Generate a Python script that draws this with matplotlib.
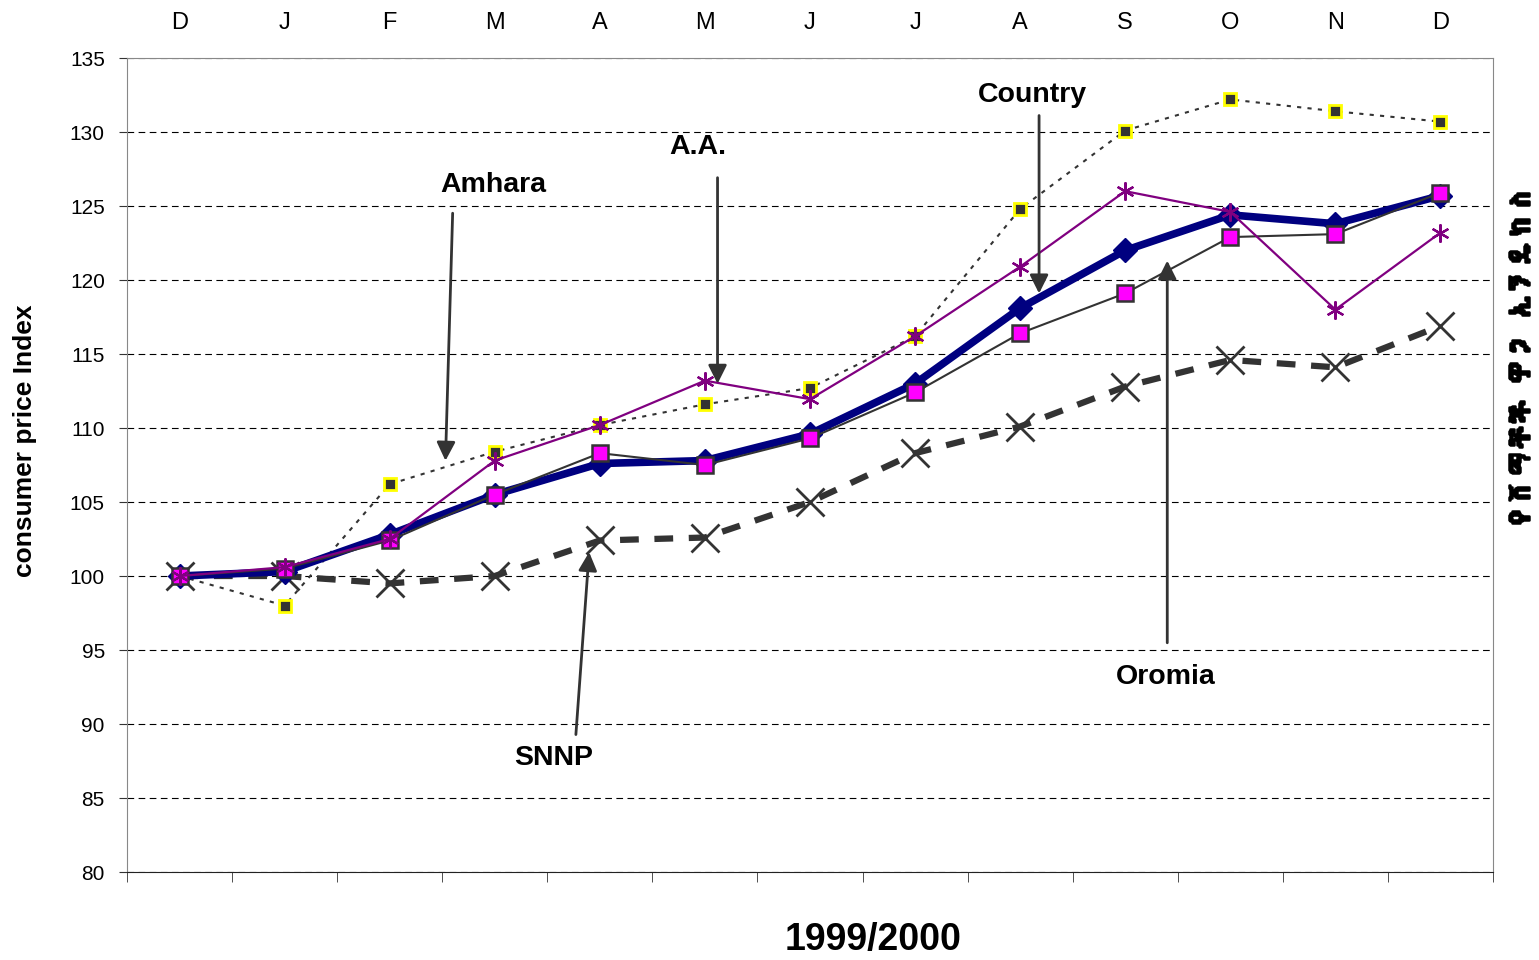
import numpy as np
import matplotlib
matplotlib.use('Agg')
import matplotlib.pyplot as plt
import matplotlib.patheffects as pe
from matplotlib import font_manager, ft2font

# Dados (leitura do gráfico)
months = ['D', 'J', 'F', 'M', 'A', 'M', 'J', 'J', 'A', 'S', 'O', 'N', 'D']
country = [100.0, 100.3, 102.8, 105.5, 107.6, 107.8, 109.6, 113.0, 118.1, 122.0, 124.4, 123.8, 125.7]
oromia = [100.0, 100.5, 102.4, 105.5, 108.3, 107.5, 109.3, 112.4, 116.4, 119.1, 122.9, 123.1, 125.9]
addis = [100.0, 100.6, 102.5, 107.8, 110.2, 113.2, 111.95, 116.2, 120.9, 126.0, 124.6, 118.0, 123.2]
amhara = [100.0, 98.0, 106.2, 108.4, 110.2, 111.6, 112.7, 116.2, 124.8, 130.1, 132.2, 131.4, 130.7]
snnp = [100.0, 100.0, 99.5, 100.0, 102.4, 102.6, 105.0, 108.3, 110.1, 112.8, 114.6, 114.1, 116.9]

y_ticks = list(range(80, 136, 5))
x_label = '1999/2000'
y_label = 'consumer price Index'
right_label = 'የሸማቾች ዋጋ ኢንዴክስ'


def find_font(ch, default='DejaVu Sans'):
    """Procura uma fonte instalada que tenha o caractere."""
    for f in font_manager.fontManager.ttflist:
        try:
            if ord(ch) in ft2font.FT2Font(f.fname).get_charmap():
                return f.name
        except Exception:
            pass
    return default


plt.rcParams['font.family'] = ['Liberation Sans', 'DejaVu Sans']

W, H = 1539, 960
fig = plt.figure(figsize=(W / 100, H / 100), dpi=100)
ax = fig.add_axes([127 / W, 1 - 872 / H, 1366 / W, 814 / H])

x = np.arange(len(months))

# SNNP
ax.plot(x, snnp, color='#333333', lw=4.5, dashes=(3, 2.5), marker='x',
        ms=20, mew=2, mec='#333333', zorder=3)
# Amhara
ax.plot(x, amhara, color='#333333', lw=1.5, dashes=(2, 3), marker='s',
        ms=8, mfc='#333333', mec='yellow', mew=2, zorder=4)
# Country
ax.plot(x, country, color='#000080', lw=5.5, marker='D', ms=12,
        mfc='#000080', mec='#000080', zorder=5)
# Oromia
ax.plot(x, oromia, color='#333333', lw=1.5, marker='s', ms=11,
        mfc='#ff00ff', mec='#333333', mew=1.8, zorder=6)
# A.A.
ax.plot(x, addis, color='#800080', lw=1.6, marker=(6, 2, 0), ms=13,
        mec='#800080', mew=1.6, zorder=7)

ax.set_xlim(-0.5, len(months) - 0.5)
ax.set_ylim(80, 135)
ax.set_yticks(y_ticks)
ax.set_yticklabels([str(v) for v in y_ticks], fontsize=15)
ax.yaxis.grid(True, color='black', lw=0.8, dashes=(6, 4))
ax.set_axisbelow(True)

ax.set_xticks(x)
ax.set_xticklabels(months, fontsize=17)
ax.set_xticks(np.arange(-0.5, len(months), 1), minor=True)
ax.tick_params(axis='x', which='major', bottom=False, top=False,
               labelbottom=False, labeltop=True, pad=14)
ax.tick_params(axis='x', which='minor', bottom=True, top=False, length=7,
               color='#333333')
ax.tick_params(axis='y', length=6, color='#333333', pad=10)

for s in ['top', 'right', 'left']:
    ax.spines[s].set_color('#888888')
ax.spines['bottom'].set_color('#222222')

fig.text(25 / W, 1 - 441 / H, y_label, rotation=90, ha='center', va='center',
         fontsize=19, fontweight='bold')
fig.text(873 / W, 1 - 940 / H, x_label, ha='center', va='center',
         fontsize=27, fontweight='bold')

eth = find_font(right_label[0])
fig.text(1521 / W, 1 - 358 / H, right_label, rotation=90, ha='center',
         va='center', fontsize=19, fontweight='bold', family=[eth, 'DejaVu Sans'],
         path_effects=[pe.withStroke(linewidth=1.8, foreground='black')])

# Anotações com setas
arrow = dict(arrowstyle='-|>', color='#333333', lw=2, mutation_scale=28)
labels = [
    ('Amhara', (2.99, 126.4), (2.60, 124.7), (2.53, 107.6)),
    ('A.A.', (4.93, 129.0), (5.12, 127.1), (5.12, 112.8)),
    ('Country', (8.12, 132.5), (8.18, 131.3), (8.18, 118.9)),
    ('Oromia', (9.39, 93.2), (9.40, 95.3), (9.40, 121.5)),
    ('SNNP', (3.56, 87.7), (3.77, 89.1), (3.90, 101.8)),
]
for txt, pos, tail, head in labels:
    ax.text(pos[0], pos[1], txt, fontsize=20.5, fontweight='bold',
            ha='center', va='center', zorder=10)
    ax.annotate('', xy=head, xytext=tail, arrowprops=arrow, zorder=9)

fig.savefig('out.png', dpi=100)
plt.close(fig)
